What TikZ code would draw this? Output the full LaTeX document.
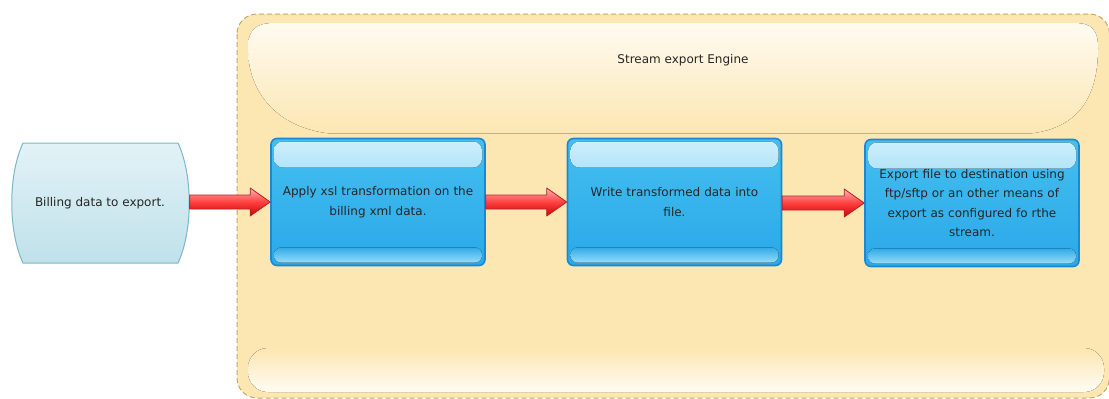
\documentclass[tikz,border=0pt]{standalone}
\usepackage{fontspec}
\setmainfont{DejaVu Sans}
\usetikzlibrary{calc}
\definecolor{engfill}{HTML}{FCE7B2}
\definecolor{engline}{HTML}{C9A46A}
\definecolor{boxline}{HTML}{1A88D2}
\definecolor{boxtop}{HTML}{45BFF0}
\definecolor{boxbot}{HTML}{2AA8E8}
\definecolor{billtop}{HTML}{E2F2F6}
\definecolor{billbot}{HTML}{BFE1EA}
\definecolor{billline}{HTML}{7DB6C6}
\definecolor{arrline}{HTML}{B3232A}
\tikzset{
  lbl/.style={font=\fontsize{12}{19.5}\selectfont, text=black!85, align=center},
  bluebox/.style={lbl, rectangle, rounded corners=6pt, draw=boxline, line width=1.6pt,
    top color=boxtop, bottom color=boxbot, minimum width=214pt, minimum height=127pt,
    text width=212pt, inner sep=0pt,
    path picture={
      \fill[rounded corners=9pt, top color=white!75!boxtop, bottom color=boxtop!96!white]
        ([shift={(3pt,-3pt)}]path picture bounding box.north west) rectangle
        ([shift={(-3pt,-29pt)}]path picture bounding box.north east);
      \fill[rounded corners=7pt, top color=boxbot!97!white, bottom color=white!45!boxtop]
        ([shift={(3pt,3pt)}]path picture bounding box.south west) rectangle
        ([shift={(-3pt,18pt)}]path picture bounding box.south east);
    }},
  fatarrow/.style={draw=arrline, line width=0.8pt, top color=red!30!white, bottom color=red!80!black, middle color=red!75!white, line join=round},
}
\newcommand\fatconn[2]{%
  \path[fatarrow] let \p1=(#1.east), \p2=(#2.west) in
    (\x1,\y2+7pt) -- (\x2-20pt,\y2+7pt) -- (\x2-20pt,\y2+14pt) -- (\x2,\y2)
    -- (\x2-20pt,\y2-14pt) -- (\x2-20pt,\y2-7pt) -- (\x1,\y2-7pt) -- cycle;}
\begin{document}
\begin{tikzpicture}[x=1pt,y=-1pt]
\useasboundingbox (0,0) rectangle (1109,399);
\begin{scope}
\clip (0,0) rectangle (1109,399);
% engine container
\draw[dashed, dash pattern=on 5pt off 3pt, draw=engline, line width=1pt, fill=engfill, rounded corners=20pt]
  (237,14) rectangle (1109.5,398);
\fill[top color=white!82!engfill, bottom color=engfill]
  (248,48) .. controls (248,30) and (256,23) .. (274,23) -- (1074,23)
  .. controls (1092,23) and (1098,30) .. (1098,48)
  .. controls (1098,95) and (1080,128) .. (1030,133.5) -- (330,133.5)
  .. controls (280,128) and (248,95) .. (248,48) -- cycle;
\fill[rounded corners=20pt, top color=engfill, bottom color=white!85!engfill]
  (248,348) rectangle (1104,392);
\end{scope}
\node[lbl] (title) at (683,60) {Stream export Engine};
% billing data shape
\path[top color=billtop, bottom color=billbot, draw=billline, line width=1pt]
  (23,143) -- (178,143) .. controls (193,175) and (193,231) .. (178,263)
  -- (23,263) .. controls (8,231) and (8,175) .. (23,143) -- cycle;
\node[lbl, inner sep=0pt, minimum width=179pt, minimum height=120pt] (bill) at (100,203) {Billing data to export.};
% process boxes
\node[bluebox] (b1) at (378,202) {Apply xsl transformation on the\\billing xml data.};
\node[bluebox] (b2) at (674.5,202) {Write transformed data into\\file.};
\node[bluebox] (b3) at (972,203) {Export file to destination using\\ftp/sftp or an other means of\\export as configured fo rthe\\stream.};
% connectors
\fatconn{bill}{b1}
\fatconn{b1}{b2}
\fatconn{b2}{b3}
\end{tikzpicture}
\end{document}
